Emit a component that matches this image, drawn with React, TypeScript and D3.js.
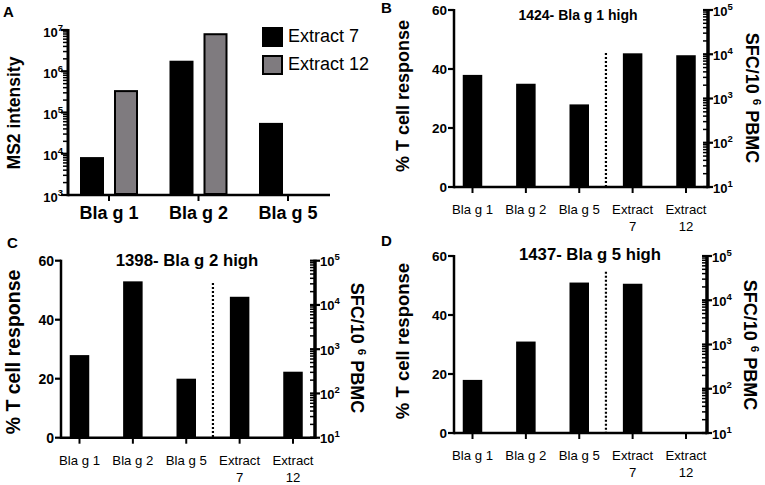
import React from "react";
import * as d3 from "d3";

const FONT = "'Liberation Sans', Arial, Helvetica, sans-serif";

// ---------- Panel A data ----------
const msCategories = ["Bla g 1", "Bla g 2", "Bla g 5"];
const msSeries = ["Extract 7", "Extract 12"];
const msExtract7: (number | null)[] = [8300, 1800000, 56000];
const msExtract12: (number | null)[] = [330000, 7900000, null];
const msTicks = [1e3, 1e4, 1e5, 1e6, 1e7];

// ---------- T cell panels data ----------
const tCategories = ["Bla g 1", "Bla g 2", "Bla g 5", "Extract 7", "Extract 12"];
const pctTicks = [0, 20, 40, 60];
const sfcTicks = [1e1, 1e2, 1e3, 1e4, 1e5];

const titleB = "1424- Bla g 1 high";
const allergenB = [38, 35, 28]; // % T cell response
const extractB: (number | null)[] = [10500, 9500]; // SFC/10^6 PBMC

const titleC = "1398- Bla g 2 high";
const allergenC = [28, 53, 20];
const extractC: (number | null)[] = [15300, 310];

const titleD = "1437- Bla g 5 high";
const allergenD = [18, 31, 51];
const extractD: (number | null)[] = [23600, null];

const AX = 2.5;

function Sup({ base, exp, supSize, dy }: { base: string; exp: string; supSize: number; dy: number }) {
  return (
    <>
      {base}
      <tspan dy={-dy} fontSize={supSize}>{exp}</tspan>
    </>
  );
}

function PanelA() {
  const left = 68, top = 30, width = 262, height = 165;
  const y = d3.scaleLog().domain([1e3, 1e7]).range([height, 0]);
  const x = d3.scalePoint<string>().domain(msCategories).range([41, 220]);
  const minor = y.ticks().filter((t) => Math.abs(Math.log10(t) - Math.round(Math.log10(t))) > 1e-9);
  const bw = 24;
  const off = 17;
  const series = [msExtract7, msExtract12];
  const fills = ["#000", "#7f7b7f"];
  return (
    <g transform={`translate(${left},${top})`}>
      {series.map((s, si) =>
        s.map((v, i) =>
          v == null ? null : (
            <rect
              key={`${si}-${i}`}
              x={(x(msCategories[i]) as number) + (si === 0 ? -off : off) - bw / 2 + (si === 1 ? 1 : 0)}
              y={y(v)}
              width={si === 1 ? bw - 2 : bw}
              height={height - y(v) - (si === 1 ? 1 : 0)}
              fill={fills[si]}
              stroke={si === 1 ? "#000" : "none"}
              strokeWidth={si === 1 ? 2 : 0}
            />
          )
        )
      )}
      {minor.map((t) => (
        <line key={t} x1={-5} x2={0} y1={y(t)} y2={y(t)} stroke="#000" strokeWidth={1.5} />
      ))}
      {msTicks.map((t) => (
        <g key={t}>
          <line x1={-7} x2={0} y1={y(t)} y2={y(t)} stroke="#000" strokeWidth={2.2} />
          <text x={-5} y={y(t) + 6.5} textAnchor="end" fontSize={13} fontWeight="bold" fontFamily={FONT}>
            <Sup base="10" exp={String(Math.round(Math.log10(t)))} supSize={9.5} dy={6} />
          </text>
        </g>
      ))}
      <line x1={0} x2={0} y1={-1} y2={height + AX / 2} stroke="#000" strokeWidth={AX + 0.5} />
      <line x1={0} x2={width} y1={height} y2={height} stroke="#000" strokeWidth={AX} />
      {msCategories.map((c) => (
        <g key={c}>
          <line x1={x(c)} x2={x(c)} y1={height} y2={height + 6} stroke="#000" strokeWidth={2} />
          <text x={x(c)} y={height + 24} textAnchor="middle" fontSize={18} fontWeight="bold" fontFamily={FONT}>
            {c}
          </text>
        </g>
      ))}
      <text
        transform={`translate(${20 - left},${113 - top}) rotate(-90)`}
        textAnchor="middle"
        fontSize={17.5}
        fontWeight="bold"
        fontFamily={FONT}
      >
        MS2 intensity
      </text>
      {msSeries.map((s, i) => (
        <g key={s}>
          <rect
            x={262 - left + (i === 1 ? 1 : 0)}
            y={27 + i * 28 - top + (i === 1 ? 1 : 0)}
            width={i === 1 ? 19 : 21}
            height={i === 1 ? 18 : 20}
            fill={fills[i]}
            stroke={i === 1 ? "#000" : "none"}
            strokeWidth={i === 1 ? 2 : 0}
          />
          <text x={288 - left} y={42 + i * 28 - top} fontSize={18} fontFamily={FONT}>
            {s}
          </text>
        </g>
      ))}
    </g>
  );
}

type TProps = {
  left: number;
  top: number;
  width: number;
  height: number;
  title: string;
  allergen: number[];
  extract: (number | null)[];
  titleX: number;
  titleY: number;
  titleSize: number;
  leftLabelX: number;
  leftLabelY: number;
  leftLabelSize: number;
  rightLabelX: number;
  rightLabelY: number;
  rightLabelSize: number;
  tickSize: number;
  dotTop: number;
};

function TPanel(p: TProps) {
  const { left, top, width, height } = p;
  const yP = d3.scaleLinear().domain([0, 60]).range([height, 0]);
  const yL = d3.scaleLog().domain([10, 1e5]).range([height, 0]);
  const x = d3.scalePoint<string>().domain(tCategories).range([18.5, 232]);
  const minor = yL.ticks().filter((t) => Math.abs(Math.log10(t) - Math.round(Math.log10(t))) > 1e-9);
  const bw = 19.5;
  const bars: { c: string; y: number }[] = [];
  p.allergen.forEach((v, i) => bars.push({ c: tCategories[i], y: yP(v) }));
  p.extract.forEach((v, i) => {
    if (v != null) bars.push({ c: tCategories[3 + i], y: yL(v) });
  });
  const dotX = ((x(tCategories[2]) as number) + (x(tCategories[3]) as number)) / 2;
  return (
    <g transform={`translate(${left},${top})`}>
      {bars.map((b) => (
        <rect key={b.c} x={(x(b.c) as number) - bw / 2} y={b.y} width={bw} height={height - b.y} fill="#000" />
      ))}
      <line
        x1={dotX}
        x2={dotX}
        y1={yP(p.dotTop)}
        y2={height}
        stroke="#000"
        strokeWidth={2.2}
        strokeDasharray="2 2"
      />
      {/* left axis */}
      {pctTicks.map((t) => (
        <g key={t}>
          <line x1={-6} x2={0} y1={yP(t)} y2={yP(t)} stroke="#000" strokeWidth={2.2} />
          <text
            x={-7}
            y={yP(t) + p.tickSize * 0.36}
            textAnchor="end"
            fontSize={p.tickSize}
            fontWeight="bold"
            fontFamily={FONT}
          >
            {t}
          </text>
        </g>
      ))}
      <line x1={0} x2={0} y1={-1} y2={height + AX / 2} stroke="#000" strokeWidth={AX} />
      {/* right axis */}
      {minor.map((t) => (
        <line key={t} x1={width - 5} x2={width} y1={yL(t)} y2={yL(t)} stroke="#000" strokeWidth={1.5} />
      ))}
      {sfcTicks.map((t) => (
        <g key={t}>
          <line x1={width - 5} x2={width + 5} y1={yL(t)} y2={yL(t)} stroke="#000" strokeWidth={2.2} />
          <text x={width + 5} y={yL(t) + 5.5} fontSize={13} fontWeight="bold" fontFamily={FONT}>
            <Sup base="10" exp={String(Math.round(Math.log10(t)))} supSize={9.5} dy={6} />
          </text>
        </g>
      ))}
      <line x1={width} x2={width} y1={-1} y2={height + AX / 2} stroke="#000" strokeWidth={AX + 1} />
      {/* bottom axis */}
      <line x1={0} x2={width} y1={height} y2={height} stroke="#000" strokeWidth={AX} />
      {tCategories.map((c) => {
        const parts = c.startsWith("Extract") ? ["Extract", c.split(" ")[1]] : [c];
        return (
          <g key={c}>
            <line x1={x(c)} x2={x(c)} y1={height} y2={height + 6} stroke="#000" strokeWidth={2} />
            {parts.map((s, k) => (
              <text
                key={k}
                x={x(c)}
                y={height + 27 + k * 17}
                textAnchor="middle"
                fontSize={13.2}
                fontFamily={FONT}
              >
                {s}
              </text>
            ))}
          </g>
        );
      })}
      <text
        x={p.titleX - left}
        y={p.titleY - top}
        textAnchor="middle"
        fontSize={p.titleSize}
        fontWeight="bold"
        fontFamily={FONT}
      >
        {p.title}
      </text>
      <text
        transform={`translate(${p.leftLabelX - left},${p.leftLabelY - top}) rotate(-90)`}
        textAnchor="middle"
        fontSize={p.leftLabelSize}
        fontWeight="bold"
        fontFamily={FONT}
      >
        % T cell response
      </text>
      <text
        transform={`translate(${p.rightLabelX - left},${p.rightLabelY - top}) rotate(90)`}
        textAnchor="middle"
        fontSize={p.rightLabelSize}
        fontWeight="bold"
        fontFamily={FONT}
      >
        SFC/10 <tspan dy={-7} fontSize={p.rightLabelSize * 0.65}>6</tspan>
        <tspan dy={7}> PBMC</tspan>
      </text>
    </g>
  );
}

function Letter({ x, y, s }: { x: number; y: number; s: string }) {
  return (
    <text x={x} y={y} fontSize={15} fontWeight="bold" fontFamily={FONT}>
      {s}
    </text>
  );
}

export default function App() {
  return (
    <svg
      width={765}
      height={485}
      viewBox="0 0 765 485"
      style={{ position: "absolute", left: 0, top: 0, background: "#fff" }}
    >
      <rect width={765} height={485} fill="#fff" />
      <PanelA />
      <TPanel
        left={454}
        top={10}
        width={254}
        height={177}
        title={titleB}
        allergen={allergenB}
        extract={extractB}
        titleX={578}
        titleY={20}
        titleSize={14}
        leftLabelX={409}
        leftLabelY={96}
        leftLabelSize={18}
        rightLabelX={746}
        rightLabelY={98}
        rightLabelSize={18}
        tickSize={13.5}
        dotTop={45.4}
      />
      <TPanel
        left={61}
        top={260.7}
        width={254}
        height={177}
        title={titleC}
        allergen={allergenC}
        extract={extractC}
        titleX={187}
        titleY={266}
        titleSize={16.8}
        leftLabelX={20}
        leftLabelY={352}
        leftLabelSize={19.5}
        rightLabelX={351}
        rightLabelY={348}
        rightLabelSize={18}
        tickSize={14}
        dotTop={52.4}
      />
      <TPanel
        left={454}
        top={256}
        width={253}
        height={177}
        title={titleD}
        allergen={allergenD}
        extract={extractD}
        titleX={590}
        titleY={260}
        titleSize={16.7}
        leftLabelX={409}
        leftLabelY={341}
        leftLabelSize={18.5}
        rightLabelX={744}
        rightLabelY={345}
        rightLabelSize={18}
        tickSize={13.5}
        dotTop={54.7}
      />
      <Letter x={3} y={17} s="A" />
      <Letter x={381} y={13} s="B" />
      <Letter x={7} y={248} s="C" />
      <Letter x={381} y={246} s="D" />
    </svg>
  );
}
